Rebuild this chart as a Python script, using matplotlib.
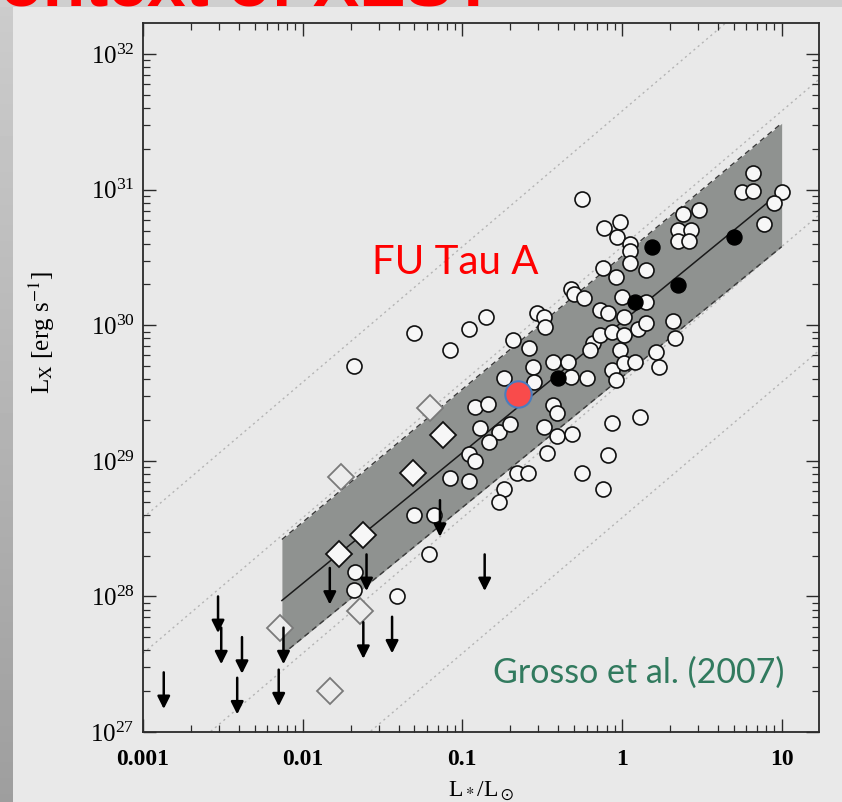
import numpy as np
import matplotlib
matplotlib.use("Agg")
import matplotlib.pyplot as plt
from matplotlib.ticker import FixedLocator, FixedFormatter, LogLocator, NullFormatter

plt.rcParams['font.family'] = ['Liberation Serif', 'DejaVu Serif']
plt.rcParams['mathtext.fontset'] = 'stix'

# ---------------- data (log10 values) ----------------
open_logL = [-1.68, -1.30, -1.08, -1.67, -1.68, -1.41, -1.21, -1.30, -1.18, -1.08,
             -0.96, -0.96, -0.92, -0.96, -0.85, -0.68, -0.58, -0.56, -0.55, -0.74,
             -0.92, -0.84, -0.89, -0.77, -0.70, -0.83, -0.66, -0.59, -0.74, -0.77,
             -0.53, -0.49, -0.48, -0.43, -0.43, -0.41, -0.49, -0.41, -0.47, -0.31,
             -0.34, -0.32, -0.22, -0.25, -0.12, -0.09, -0.06, 0.11, -0.25, -0.32,
             -0.30, -0.24, -0.12, -0.04, -0.11, -0.01, -0.03, 0.05, 0.05, 0.05,
             0.00, -0.14, -0.09, 0.01, -0.18, -0.14, -0.06, 0.01, -0.20, -0.01,
             -0.06, 0.01, 0.08, -0.04, 0.10, 0.15, 0.15, 0.15, 0.32, 0.33,
             0.21, 0.23, 0.38, 0.48, 0.35, 0.43, 0.35, 0.42, 0.75, 0.82,
             0.82, 1.00, 0.95, 0.89]
open_logLx = [29.70, 29.94, 29.82, 28.18, 28.05, 28.00, 28.31, 28.60, 28.60, 28.87,
              28.85, 29.05, 29.00, 29.97, 30.06, 29.89, 29.83, 29.69, 29.58, 29.61,
              29.40, 29.42, 29.24, 29.21, 29.27, 29.14, 28.91, 28.91, 28.79, 28.70,
              30.09, 30.06, 29.99, 29.73, 29.41, 29.35, 29.25, 29.18, 29.06, 29.20,
              29.73, 29.62, 29.61, 28.91, 28.79, 29.04, 29.28, 29.32, 30.93, 30.27,
              30.23, 30.20, 30.42, 30.36, 30.72, 30.76, 30.65, 30.60, 30.55, 30.46,
              30.21, 30.11, 30.09, 30.06, 29.87, 29.93, 29.95, 29.93, 29.82, 29.82,
              29.67, 29.72, 29.73, 29.60, 29.97, 30.41, 30.17, 30.02, 30.03, 29.91,
              29.80, 29.69, 30.82, 30.85, 30.70, 30.70, 30.62, 30.62, 30.98, 30.99,
              31.12, 30.98, 30.90, 30.75]

filled_logL = [-0.40, 0.08, 0.19, 0.35, 0.70]
filled_logLx = [29.61, 30.17, 30.58, 30.30, 30.65]

diam_logL = [-1.12, -1.31, -1.62, -1.77]
diam_logLx = [29.19, 28.91, 28.45, 28.31]

diam_faint_logL = [-1.20, -1.76, -1.64, -2.14, -1.83]
diam_faint_logLx = [29.39, 28.88, 27.89, 27.77, 27.30]

ul_logL = [-2.87, -2.53, -2.51, -2.38, -2.41, -2.12, -2.15, -1.83, -1.60, -1.62,
           -1.44, -1.14, -0.86]
ul_logLx = [27.44, 28.00, 27.77, 27.70, 27.40, 27.77, 27.46, 28.21, 28.31, 27.81,
            27.85, 28.71, 28.31]

futau_logL = -0.65
futau_logLx = 29.49

fit_logL = [-2.13, 1.0]
fit_logLx = [27.97, 30.99]
band_upper_logLx = [28.42, 31.49]
band_lower_logLx = [27.57, 30.58]

log_Lsun = 33.58
ratio_exponents = [-2, -3, -4, -5]   # Lx/L* lines

xticks = [0.001, 0.01, 0.1, 1, 10]
xticklabels = ['0.001', '0.01', '0.1', '1', '10']
yticks = [1e27, 1e28, 1e29, 1e30, 1e31, 1e32]

# ---------------- figure ----------------
W, H = 842, 802
fig = plt.figure(figsize=(W / 100, H / 100), dpi=100)
bg = '#e9e9e9'
fig.patch.set_facecolor(bg)

# slide decoration: left gradient strip and top band
deco = fig.add_axes([0, 0, 1, 1], zorder=-5)
deco.set_xlim(0, W)
deco.set_ylim(H, 0)
deco.axis('off')
grad = np.linspace(0.80, 0.62, 200)[:, None]
deco.imshow(grad, extent=[0, 13, H, 0], cmap='gray', vmin=0, vmax=1, aspect='auto')
deco.add_patch(plt.Rectangle((0, 0), W, 7, color='#cfcfcf', lw=0))

ax = fig.add_axes([143 / W, 1 - 732 / H, (819 - 143) / W, (732 - 23) / H])
ax.set_facecolor(bg)
ax.set_xscale('log')
ax.set_yscale('log')
xmin, xmax = 1e-3, 10 ** 1.234
ymin, ymax = 1e27, 10 ** 32.23
ax.set_xlim(xmin, xmax)
ax.set_ylim(ymin, ymax)

# Lx/L* dotted lines
xx = np.array([np.log10(xmin), np.log10(xmax)])
for k in ratio_exponents:
    ax.plot(10 ** xx, 10 ** (log_Lsun + k + xx), ls=(0, (1.5, 2.5)), color='#b4b4b4',
            lw=1.0, zorder=1)

# regression band
bx = 10 ** np.array(fit_logL)
ax.fill_between(bx, 10 ** np.array(band_lower_logLx), 10 ** np.array(band_upper_logLx),
                color='#8f9290', lw=0, zorder=1.5)
ax.plot(bx, 10 ** np.array(band_upper_logLx), ls=(0, (4, 3)), color='#3a3a3a', lw=1.0, zorder=1.6)
ax.plot(bx, 10 ** np.array(band_lower_logLx), ls=(0, (4, 3)), color='#3a3a3a', lw=1.0, zorder=1.6)
ax.plot(bx, 10 ** np.array(fit_logLx), color='#1a1a1a', lw=1.1, zorder=1.7)

# points
ax.plot(10 ** np.array(open_logL), 10 ** np.array(open_logLx), 'o', ms=10.8,
        mfc='#f7f7f7', mec='#111111', mew=1.2, zorder=3)
ax.plot(10 ** np.array(filled_logL), 10 ** np.array(filled_logLx), 'o', ms=10.8,
        mfc='#000000', mec='#000000', mew=1.0, zorder=3.2)
ax.plot(10 ** np.array(diam_faint_logL), 10 ** np.array(diam_faint_logLx), 'D', ms=13,
        mfc='#ececec', mec='#7a7a7a', mew=1.3, zorder=3.1)
ax.plot(10 ** np.array(diam_logL), 10 ** np.array(diam_logLx), 'D', ms=13,
        mfc='#f7f7f7', mec='#111111', mew=1.3, zorder=3.1)

# upper limits
for lx, ly in zip(ul_logL, ul_logLx):
    ax.annotate('', xy=(10 ** lx, 10 ** (ly - 0.27)), xytext=(10 ** lx, 10 ** ly),
                arrowprops=dict(arrowstyle='-|>,head_length=0.5,head_width=0.25',
                                color='black', lw=1.8, mutation_scale=15,
                                shrinkA=0, shrinkB=0), zorder=4)

# FU Tau A
ax.plot(10 ** futau_logL, 10 ** futau_logLx, 'o', ms=19, mfc='#f94b4b', mec='#4a7dbf',
        mew=1.5, zorder=5)

# axes styling
for s in ax.spines.values():
    s.set_color('#2a2a2a')
    s.set_linewidth(1.3)
ax.tick_params(which='both', direction='in', top=True, right=True, color='#2a2a2a')
ax.tick_params(which='major', length=9.5, width=1.0)
ax.tick_params(which='minor', length=5, width=0.9)
ax.xaxis.set_major_locator(FixedLocator(xticks))
ax.xaxis.set_major_formatter(FixedFormatter(xticklabels))
ax.xaxis.set_minor_locator(LogLocator(base=10, subs=np.arange(2, 10), numticks=20))
ax.xaxis.set_minor_formatter(NullFormatter())
ax.yaxis.set_major_locator(FixedLocator(yticks))
ax.yaxis.set_minor_locator(LogLocator(base=10, subs=np.arange(2, 10), numticks=20))
ax.yaxis.set_minor_formatter(NullFormatter())
ax.tick_params(axis='x', which='major', labelsize=17, pad=12)
ax.tick_params(axis='y', which='major', labelsize=18, pad=6)
for t in ax.get_xticklabels():
    t.set_fontweight('bold')

ax.set_xlabel(r'L$_*$/L$_\odot$', fontsize=17)
ax.xaxis.set_label_coords(0.5, -0.067)
ax.set_ylabel(r'L$_{\rm X}$ [erg s$^{-1}$]', fontsize=18)
ax.yaxis.set_label_coords(-0.127, 0.563)

# overlaid slide text
fig.text(455 / W, 1 - 262 / H, 'FU Tau A', color='#ff0000', fontsize=29,
         family='Lato', ha='center', va='center')
fig.text(639 / W, 1 - 673 / H, 'Grosso et al. (2007)', color='#317a5e', fontsize=24.5,
         family='Lato', ha='center', va='center')
fig.text(-50 / W, 1 - 5 / H, 'Context of XEST', color='#ff0000', fontsize=50,
         family='Liberation Sans', fontweight='bold', ha='left', va='baseline')

fig.savefig('out.png', dpi=100, facecolor=fig.get_facecolor())
